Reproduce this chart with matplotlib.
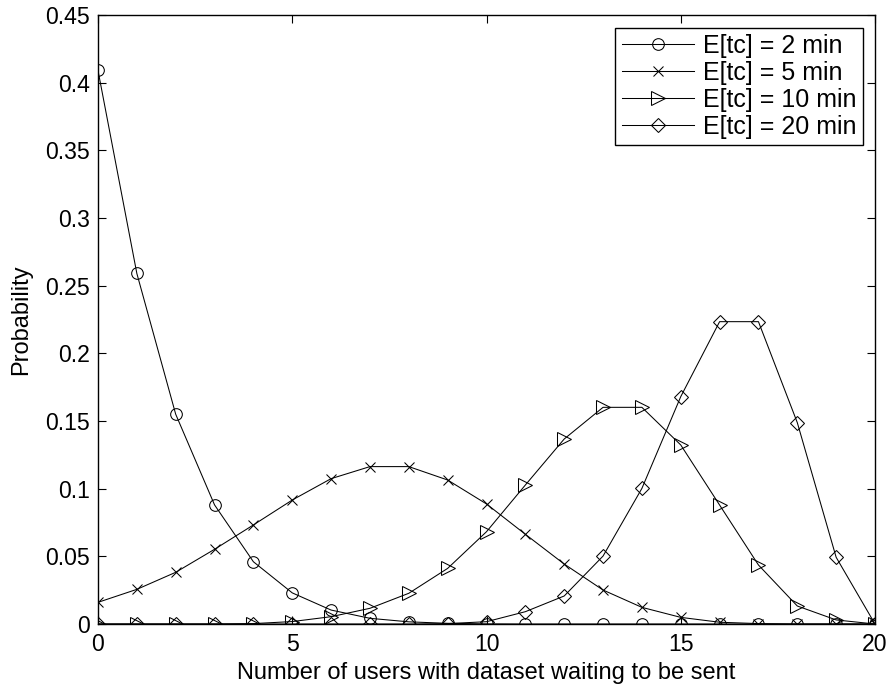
import matplotlib
matplotlib.use("Agg")
import matplotlib.pyplot as plt
from matplotlib.ticker import FuncFormatter, MultipleLocator

plt.rcParams['font.family'] = ['Liberation Sans', 'DejaVu Sans']

# Number of users with a dataset waiting to be sent
users = list(range(21))

# Probability of each count, for several mean contact times E[tc]
p_tc2 = [0.409, 0.259, 0.155, 0.088, 0.046, 0.023, 0.0103, 0.0042, 0.0016,
         0.0005, 0.0001, 0, 0, 0, 0, 0, 0, 0, 0, 0, 0]
p_tc5 = [0.016, 0.0256, 0.0382, 0.0552, 0.0732, 0.0916, 0.1074, 0.1163, 0.1163,
         0.1064, 0.0887, 0.0663, 0.0443, 0.0251, 0.0123, 0.0049, 0.0013, 0.0003,
         0, 0, 0]
p_tc10 = [0, 0, 0, 0, 0.0003, 0.0018, 0.0054, 0.0116, 0.0227, 0.0411, 0.0682,
          0.1027, 0.1367, 0.1601, 0.1601, 0.1323, 0.0879, 0.0436, 0.0133, 0.003, 0]
p_tc20 = [0, 0, 0, 0, 0, 0, 0, 0, 0, 0.0003, 0.0017, 0.0091, 0.0207, 0.0502,
          0.1002, 0.168, 0.2234, 0.2234, 0.1488, 0.0493, 0]

labels = ['E[tc] = 2 min', 'E[tc] = 5 min', 'E[tc] = 10 min', 'E[tc] = 20 min']
x_ticks = [0, 5, 10, 15, 20]

fig = plt.figure(figsize=(8.86, 6.91), dpi=100)
ax = fig.add_axes([98 / 886, 67 / 691, 777 / 886, 609 / 691])

common = dict(color='black', lw=0.75, mfc='none', mec='black', mew=0.75)
ax.plot(users, p_tc2, marker='o', ms=8.4, label=labels[0], **common)
ax.plot(users, p_tc5, marker='x', ms=7.0, label=labels[1], **common)
ax.plot(users, p_tc10, marker='>', ms=10.5, label=labels[2], **common)
ax.plot(users, p_tc20, marker='D', ms=7.4, label=labels[3], **common)

ax.set_xlim(0, 20)
ax.set_ylim(0, 0.45)
ax.set_xticks(x_ticks)
ax.yaxis.set_major_locator(MultipleLocator(0.05))
ax.yaxis.set_major_formatter(FuncFormatter(lambda v, pos: '%g' % round(v, 4)))

ax.tick_params(direction='in', top=True, right=True, length=5.6, width=0.8,
               labelsize=16.6, pad=6.5)
ax.tick_params(axis='y', pad=5.5)
for sp in ax.spines.values():
    sp.set_linewidth(1.0)

ax.set_xlabel('Number of users with dataset waiting to be sent', fontsize=17,
              labelpad=4)
ax.set_ylabel('Probability', fontsize=17, labelpad=10)

leg = ax.legend(loc='upper right', fontsize=18, frameon=True, fancybox=False,
                edgecolor='black', framealpha=1, handlelength=2.9,
                handletextpad=0.35, labelspacing=0.12, borderpad=0.25,
                borderaxespad=0.5)
leg.get_frame().set_linewidth(1.0)

fig.savefig('out.png', dpi=100)
